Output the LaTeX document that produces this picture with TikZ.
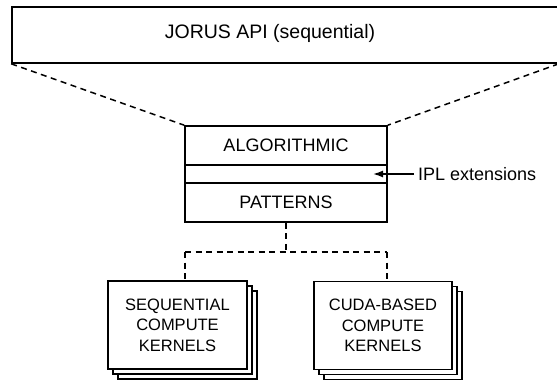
\documentclass[tikz,border=0pt]{standalone}
\usepackage{fontspec}
\setmainfont{Liberation Sans}
\usetikzlibrary{shadows,arrows.meta}
\begin{document}
\begin{tikzpicture}[x=1pt,y=-1pt,
  box/.style={draw,line width=1.6pt,rectangle,inner sep=0pt,fill=white},
  dashline/.style={line width=1.5pt,dash pattern=on 6pt off 4.5pt},
  midtext/.style={font=\fontsize{18}{21}\selectfont},
  kernel/.style={box,minimum width=139pt,minimum height=88pt,align=center,
     font=\fontsize{16.5}{20.5}\selectfont,
     double copy shadow={shadow xshift=5pt,shadow yshift=-5pt,draw,fill=white,line width=1.6pt}},
]
\useasboundingbox (0,0) rectangle (557,383);
% top API box
\node[box,minimum width=546pt,minimum height=56pt] (api) at (285,35) {};
\node[font=\fontsize{19.5}{23}\selectfont] (apilabel) at (270,33) {JORUS API (sequential)};
% middle stack
\node[box,minimum width=202pt,minimum height=39pt,midtext] (alg) at (286,145.5) {ALGORITHMIC};
\node[box,minimum width=202pt,minimum height=18pt] (ipl) at (286,174) {};
\node[box,minimum width=202pt,minimum height=39pt,midtext] (pat) at (286,202.5) {PATTERNS};
% IPL extensions
\node[midtext,anchor=west,inner sep=0pt] (ext) at (418,174) {IPL extensions};
\coordinate (tip) at (373,174);
\draw[line width=1.5pt,-{Latex[length=10pt,width=7pt]}] ([xshift=-4pt]ext.west) -- (tip);
% dashed projection lines
\draw[dashline] (api.south west) -- (alg.north west);
\draw[dashline] (api.south east) -- (alg.north east);
% kernels
\node[kernel] (seq) at (177.5,325) {SEQUENTIAL\\COMPUTE\\KERNELS};
\node[kernel,minimum width=138pt] (cuda) at (383,325.5) {CUDA-BASED\\COMPUTE\\KERNELS};
% bottom connectors
\coordinate (jm) at (286,252);
\coordinate (jl) at (185,252);
\coordinate (jr) at (387,252);
\draw[dashline] (pat.south) -- (jm);
\draw[dashline] (jl) -- (jr);
\draw[dashline] (jl) -- (jl |- seq.north);
\draw[dashline] (jr) -- (jr |- cuda.north);
\end{tikzpicture}
\end{document}
